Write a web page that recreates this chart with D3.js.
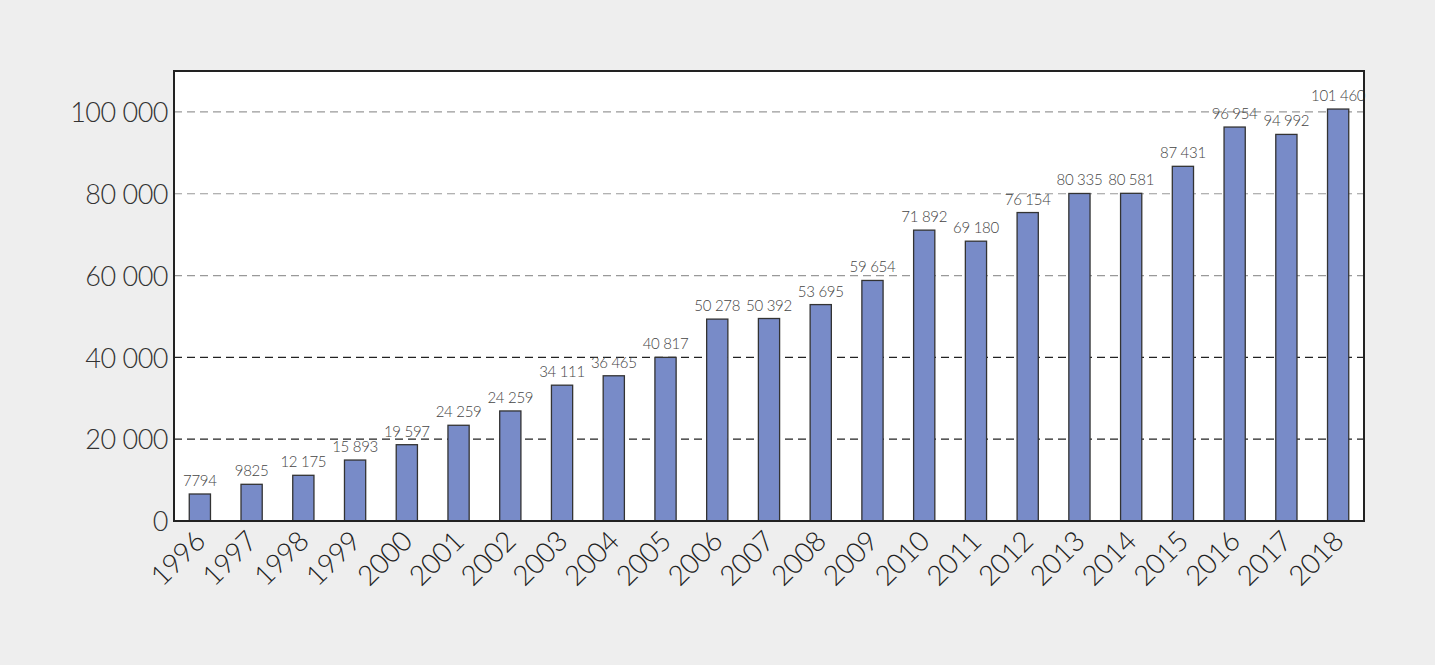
<!DOCTYPE html>
<meta charset="utf-8">
<style>
body { margin: 0; background: #eeeeee; }
svg { display: block; }
.ytick { font-family: Lato, "Open Sans", sans-serif; font-size: 27px; font-weight: 300; fill: #333; letter-spacing: -0.5px; }
.xtick { font-family: Lato, "Open Sans", sans-serif; font-size: 28px; font-weight: 300; fill: #222; letter-spacing: -0.5px; }
.vlabel { font-family: Lato, "Open Sans", sans-serif; font-size: 15px; font-weight: 300; fill: #444; letter-spacing: -0.3px; }
</style>
<body>
<script src="https://d3js.org/d3.v7.min.js"></script>
<script>

// years on the x axis
var years = ["1996","1997","1998","1999","2000","2001","2002","2003","2004","2005","2006","2007",
             "2008","2009","2010","2011","2012","2013","2014","2015","2016","2017","2018"];

// bar heights
var values = [6600, 8970, 11170, 14900, 18650, 23400, 26900, 33200, 35500, 40000, 49350, 49500,
              52900, 58800, 71100, 68400, 75400, 80060, 80100, 86700, 96300, 94500, 100700];

// the numbers printed above the bars
var labels = ["7794","9825","12 175","15 893","19 597","24 259","24 259","34 111","36 465","40 817","50 278","50 392",
              "53 695","59 654","71 892","69 180","76 154","80 335","80 581","87 431","96 954","94 992","101 460"];

// y axis ticks
var yTicks = [0, 20000, 40000, 60000, 80000, 100000];
var yTickLabels = ["0","20 000","40 000","60 000","80 000","100 000"];

var W = 1435, H = 665;
var margin = {top: 71, right: 71, bottom: 144, left: 174},
    width = W - margin.left - margin.right,
    height = H - margin.top - margin.bottom;

var svg = d3.select("body").append("svg")
    .attr("width", W)
    .attr("height", H);

var g = svg.append("g")
    .attr("transform", "translate(" + margin.left + "," + margin.top + ")");

var x = d3.scaleBand().domain(years).range([0, width]).paddingInner(0.59).paddingOuter(0.295);
var y = d3.scaleLinear().domain([0, 110000]).range([height, 0]);

// plot background
g.append("rect")
    .attr("width", width)
    .attr("height", height)
    .attr("fill", "#fff");

// dashed grid lines, upper ones lighter
g.selectAll(".grid")
    .data(yTicks.filter(function(d) { return d > 0; }))
  .enter().append("line")
    .attr("x1", 0)
    .attr("x2", width)
    .attr("y1", function(d) { return y(d); })
    .attr("y2", function(d) { return y(d); })
    .attr("stroke", function(d) { return d >= 60000 ? "#999" : "#222"; })
    .attr("stroke-width", 1.2)
    .attr("stroke-dasharray", "8,5");

// bars
g.selectAll(".bar")
    .data(years)
  .enter().append("rect")
    .attr("x", function(d) { return x(d); })
    .attr("y", function(d, i) { return y(values[i]); })
    .attr("width", x.bandwidth())
    .attr("height", function(d, i) { return height - y(values[i]); })
    .attr("fill", "#788bc8")
    .attr("stroke", "#333")
    .attr("stroke-width", 1.3);

// value labels
g.selectAll(".vlabel")
    .data(years)
  .enter().append("text")
    .attr("class", "vlabel")
    .attr("x", function(d) { return x(d) + x.bandwidth() / 2; })
    .attr("y", function(d, i) { return y(values[i]) - 8; })
    .attr("text-anchor", "middle")
    .text(function(d, i) { return labels[i]; });

// frame
g.append("rect")
    .attr("width", width)
    .attr("height", height)
    .attr("fill", "none")
    .attr("stroke", "#222")
    .attr("stroke-width", 2);

// y axis
var yAxis = g.append("g")
    .call(d3.axisLeft(y).tickValues(yTicks).tickSize(0).tickPadding(6)
      .tickFormat(function(d, i) { return yTickLabels[i]; }));
yAxis.attr("font-family", null).attr("font-size", null);
yAxis.select(".domain").remove();
yAxis.selectAll("text")
    .attr("class", "ytick")
    .attr("fill", null)
    .attr("dy", "0.36em");

// x axis, rotated labels
var xAxis = g.append("g")
    .attr("transform", "translate(0," + height + ")")
    .call(d3.axisBottom(x).tickSize(0));
xAxis.attr("font-family", null).attr("font-size", null);
xAxis.select(".domain").remove();
xAxis.selectAll("text")
    .attr("class", "xtick")
    .attr("fill", null)
    .attr("y", null)
    .attr("dy", null)
    .attr("text-anchor", "end")
    .attr("transform", "translate(7,22) rotate(-45)");

</script>
</body>
